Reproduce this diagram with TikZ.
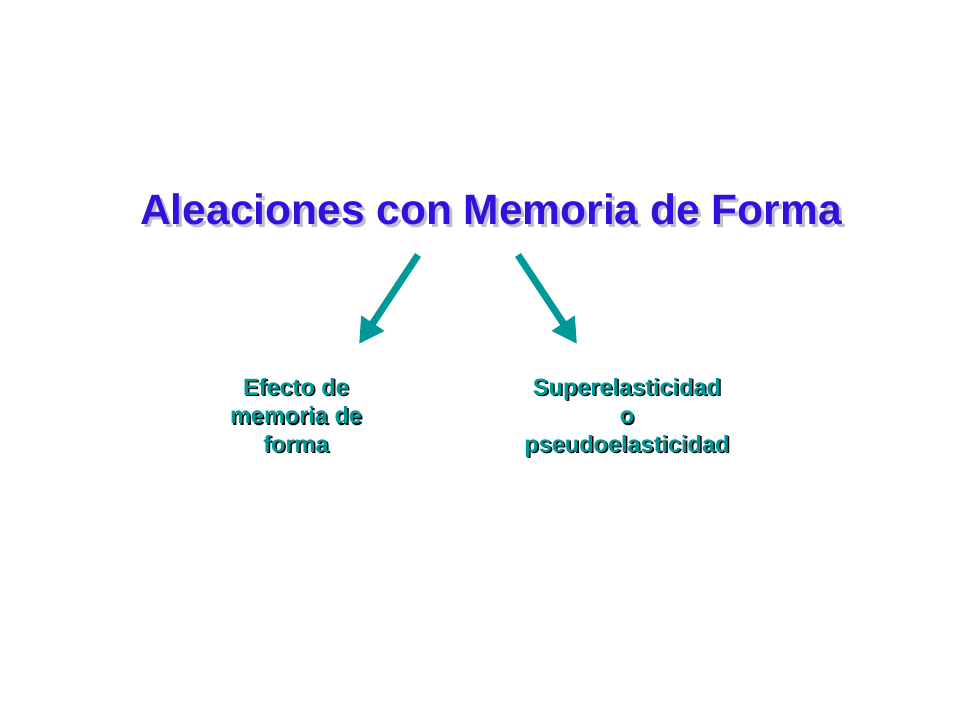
\documentclass[tikz,border=0pt]{standalone}
\usepackage{fontspec}
\setmainfont{Liberation Sans}
\usetikzlibrary{arrows.meta}
\definecolor{titleblue}{RGB}{51,17,221}
\definecolor{titleshade}{RGB}{190,190,200}
\definecolor{branchteal}{RGB}{0,153,153}
\newcommand{\shadowed}[3]{\makebox[0pt][l]{\kern#2\raisebox{-#2}{\textcolor{#1}{#3}}}#3}

\begin{document}
\begin{tikzpicture}
[x=1pt,y=-1pt,%
  every node/.style={inner sep=0pt},%
  branch/.style={text=branchteal,font=\fontsize{23.5}{28.5}\selectfont\bfseries,align=center},%
  link/.style={-{Triangle[length=25pt,width=26pt]},line width=7pt,draw=branchteal}]
\useasboundingbox (0,0) rectangle (960,720);
\node[anchor=base,text=titleblue,font=\fontsize{42.5}{48}\selectfont\bfseries]
  (title) at (491,224) {\shadowed{titleshade}{3pt}{Aleaciones con Memoria de Forma}};
\node[branch,anchor=north] (shape) at (296,378)
  {\shadowed{black}{1.5pt}{Efecto de}\\
   \shadowed{black}{1.5pt}{memoria de}\\
   \shadowed{black}{1.5pt}{forma}};
\node[branch,anchor=north] (super) at (627,378)
  {\shadowed{black}{1.5pt}{Superelasticidad}\\
   \shadowed{black}{1.5pt}{o}\\
   \shadowed{black}{1.5pt}{pseudoelasticidad}};
\coordinate (shape from) at (418,255);
\coordinate (shape to) at (359,344);
\coordinate (super from) at (518,255);
\coordinate (super to) at (577,344);
\path
(shape from) edge[link] (shape to)
(super from) edge[link] (super to);
\end{tikzpicture}
\end{document}
